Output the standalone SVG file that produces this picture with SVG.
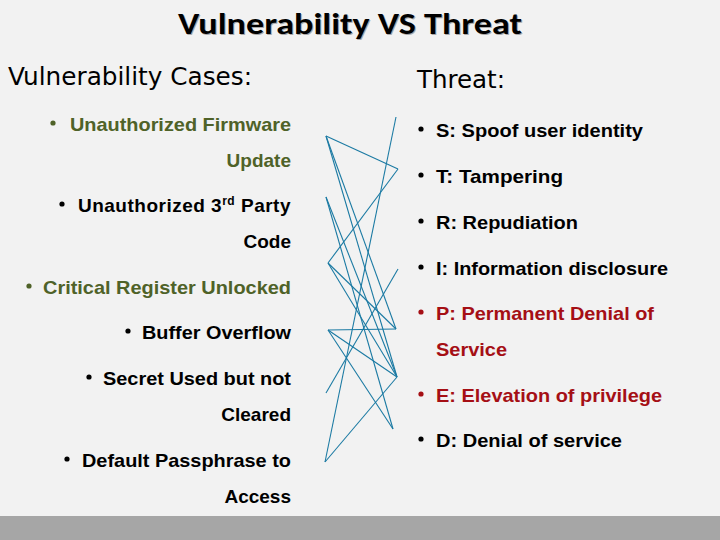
<svg xmlns="http://www.w3.org/2000/svg" width="720" height="540" viewBox="0 0 720 540">
<style>
.t{font-family:"Liberation Sans",Arial,sans-serif;font-weight:bold;font-size:19px}
.k{fill:#000}
.g{fill:#4f6228}
.r{fill:#a50f15}
.h{font-family:"Liberation Sans Narrow","DejaVu Sans Condensed","Liberation Sans",sans-serif;font-size:25px;fill:#000}
.ttl{font-family:Carlito,"Liberation Sans Narrow","DejaVu Sans Condensed",sans-serif;font-weight:bold;font-size:31px}
.c line{stroke:#1b7aa3;stroke-width:1.1;fill:none}
</style>
<rect width="720" height="540" fill="#f2f2f2"/>
<rect x="0" y="516" width="720" height="24" fill="#a6a6a6"/>
<g id="title">
<text class="ttl" x="351" y="35" text-anchor="middle" fill="#a8a8a8" textLength="344" lengthAdjust="spacingAndGlyphs">Vulnerability VS Threat</text>
<text class="ttl" x="350" y="34" text-anchor="middle" fill="#000" textLength="344" lengthAdjust="spacingAndGlyphs">Vulnerability VS Threat</text>
</g>
<g id="headers">
<text class="h" x="8" y="85" textLength="244" lengthAdjust="spacingAndGlyphs">Vulnerability Cases:</text>
<text class="h" x="417" y="88" textLength="88" lengthAdjust="spacingAndGlyphs">Threat:</text>
</g>
<g id="v1"><circle cx="53" cy="123" r="2.6" class="g"/><text class="t g" x="70" y="131" textLength="221" lengthAdjust="spacingAndGlyphs">Unauthorized Firmware</text><text class="t g" x="291" y="167" text-anchor="end">Update</text></g>
<g id="v2"><circle cx="62" cy="204" r="2.6" class="k"/><text class="t k" x="291" y="212" text-anchor="end" letter-spacing="0.5">Unauthorized 3<tspan font-size="12" dy="-7">rd</tspan><tspan dy="7"> Party</tspan></text><text class="t k" x="291" y="248" text-anchor="end">Code</text></g>
<g id="v3"><circle cx="29" cy="286" r="2.6" class="g"/><text class="t g" x="43" y="294" textLength="248" lengthAdjust="spacingAndGlyphs">Critical Register Unlocked</text></g>
<g id="v4"><circle cx="128" cy="331" r="2.6" class="k"/><text class="t k" x="142" y="339" textLength="149" lengthAdjust="spacingAndGlyphs">Buffer Overflow</text></g>
<g id="v5"><circle cx="89" cy="377" r="2.6" class="k"/><text class="t k" x="103" y="385" textLength="188" lengthAdjust="spacingAndGlyphs">Secret Used but not</text><text class="t k" x="291" y="421" text-anchor="end">Cleared</text></g>
<g id="v6"><circle cx="67" cy="459" r="2.6" class="k"/><text class="t k" x="82" y="467" textLength="209" lengthAdjust="spacingAndGlyphs">Default Passphrase to</text><text class="t k" x="291" y="503" text-anchor="end">Access</text></g>
<g id="s"><circle cx="421" cy="129" r="2.6" class="k"/><text class="t k" x="436" y="137" textLength="207" lengthAdjust="spacingAndGlyphs">S: Spoof user identity</text></g>
<g id="tm"><circle cx="421" cy="175" r="2.6" class="k"/><text class="t k" x="436" y="183" textLength="127" lengthAdjust="spacingAndGlyphs">T: Tampering</text></g>
<g id="rp"><circle cx="421" cy="221" r="2.6" class="k"/><text class="t k" x="436" y="229" textLength="142" lengthAdjust="spacingAndGlyphs">R: Repudiation</text></g>
<g id="id"><circle cx="421" cy="267" r="2.6" class="k"/><text class="t k" x="436" y="275" textLength="232" lengthAdjust="spacingAndGlyphs">I: Information disclosure</text></g>
<g id="pd"><circle cx="421" cy="312" r="2.6" class="r"/><text class="t r" x="436" y="320" textLength="218" lengthAdjust="spacingAndGlyphs">P: Permanent Denial of</text><text class="t r" x="436" y="356" textLength="71" lengthAdjust="spacingAndGlyphs">Service</text></g>
<g id="ep"><circle cx="421" cy="394" r="2.6" class="r"/><text class="t r" x="436" y="402" textLength="226" lengthAdjust="spacingAndGlyphs">E: Elevation of privilege</text></g>
<g id="ds"><circle cx="421" cy="439" r="2.6" class="k"/><text class="t k" x="436" y="447" textLength="186" lengthAdjust="spacingAndGlyphs">D: Denial of service</text></g>
<g id="connectors" class="c">
<line x1="326" y1="136" x2="398" y2="169"/>
<line x1="326" y1="136" x2="396" y2="329"/>
<line x1="326" y1="136" x2="397" y2="377"/>
<line x1="326" y1="197" x2="397" y2="377"/>
<line x1="326" y1="197" x2="393" y2="429"/>
<line x1="328" y1="263" x2="398" y2="169"/>
<line x1="328" y1="263" x2="396" y2="329"/>
<line x1="328" y1="263" x2="397" y2="377"/>
<line x1="328" y1="330" x2="396" y2="329"/>
<line x1="328" y1="330" x2="397" y2="377"/>
<line x1="328" y1="330" x2="393" y2="429"/>
<line x1="326" y1="393" x2="398" y2="269"/>
<line x1="325" y1="462" x2="396" y2="117"/>
<line x1="325" y1="462" x2="397" y2="377"/>
</g>
</svg>
